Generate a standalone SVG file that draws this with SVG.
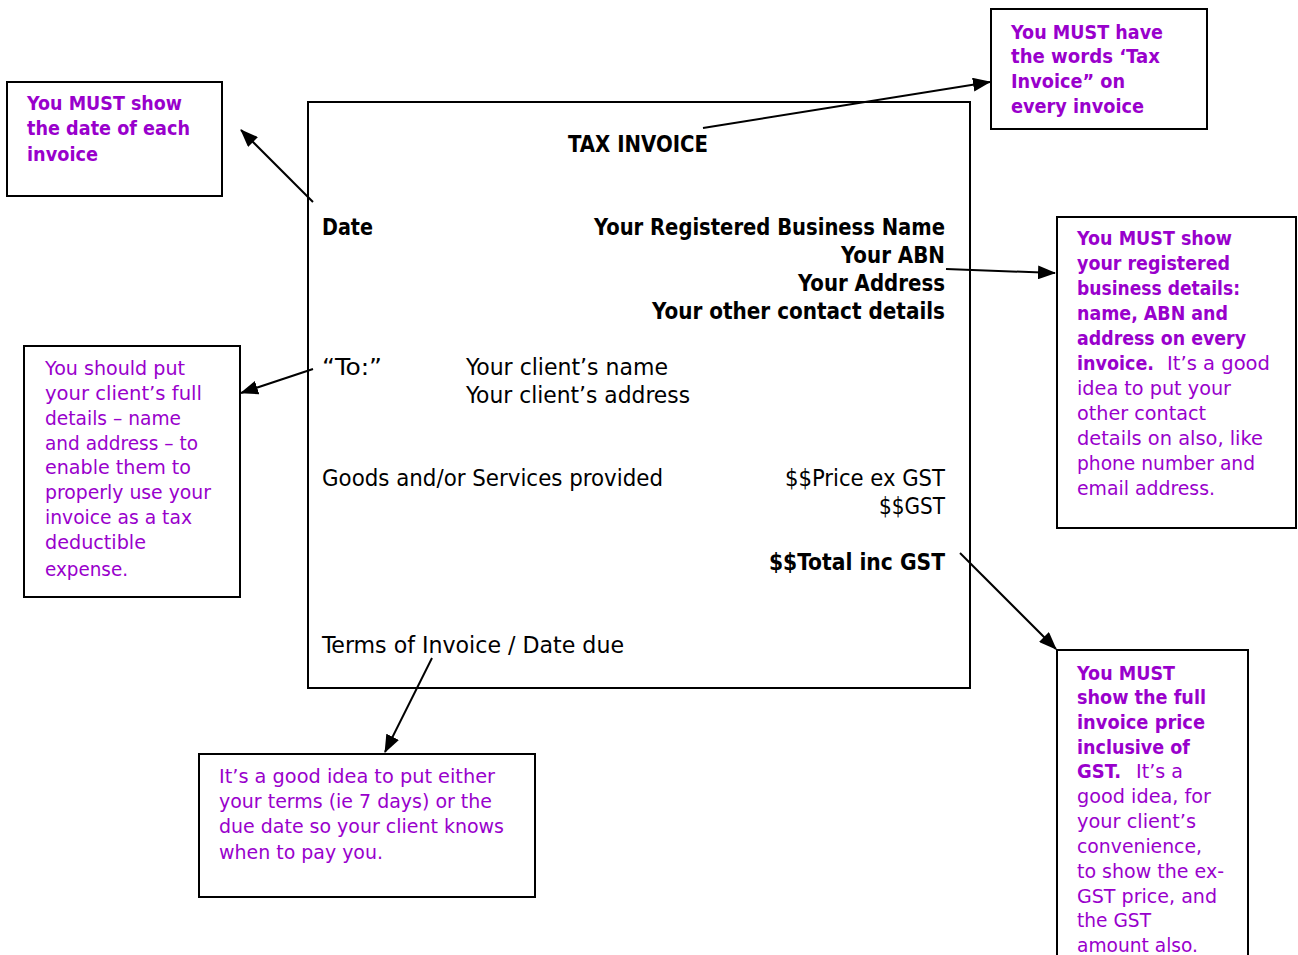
<svg xmlns="http://www.w3.org/2000/svg" width="1298" height="955" viewBox="0 0 1298 955">
<style>
.box{fill:#fff;stroke:#000;stroke-width:2}
.main{font-family:"DejaVu Sans","Liberation Sans",sans-serif;font-size:23px;fill:#000;font-stretch:condensed}
.b{font-weight:bold}
.note{font-family:"DejaVu Sans","Liberation Sans",sans-serif;font-size:20px;fill:#9900CC}
.conn{stroke:#000;stroke-width:2;fill:none;marker-end:url(#arr)}
</style>
<defs>
<marker id="arr" markerUnits="userSpaceOnUse" markerWidth="18" markerHeight="14" refX="17" refY="7" orient="auto">
<path d="M0,0 L18,7 L0,14 z" fill="#000"/>
</marker>
</defs>
<rect width="1298" height="955" fill="#fff"/>

<g id="invoice">
<rect class="box" x="308" y="102" width="662" height="586"/>
<text class="main b" x="568" y="152" textLength="140" lengthAdjust="spacingAndGlyphs">TAX INVOICE</text>
<text class="main b" x="322" y="235" textLength="51" lengthAdjust="spacingAndGlyphs">Date</text>
<text class="main b" x="594" y="235" textLength="351" lengthAdjust="spacingAndGlyphs">Your Registered Business Name</text>
<text class="main b" x="841" y="263" textLength="104" lengthAdjust="spacingAndGlyphs">Your ABN</text>
<text class="main b" x="798" y="291" textLength="147" lengthAdjust="spacingAndGlyphs">Your Address</text>
<text class="main b" x="652" y="319" textLength="293" lengthAdjust="spacingAndGlyphs">Your other contact details</text>
<text class="main" x="322" y="375" textLength="60" lengthAdjust="spacingAndGlyphs">“To:”</text>
<text class="main" x="466" y="375" textLength="202" lengthAdjust="spacingAndGlyphs">Your client’s name</text>
<text class="main" x="466" y="403" textLength="224" lengthAdjust="spacingAndGlyphs">Your client’s address</text>
<text class="main" x="322" y="486" textLength="341" lengthAdjust="spacingAndGlyphs">Goods and/or Services provided</text>
<text class="main" x="785" y="486" textLength="160" lengthAdjust="spacingAndGlyphs">$$Price ex GST</text>
<text class="main" x="879" y="514" textLength="66" lengthAdjust="spacingAndGlyphs">$$GST</text>
<text class="main b" x="769" y="570" textLength="176" lengthAdjust="spacingAndGlyphs">$$Total inc GST</text>
<text class="main" x="322" y="653" textLength="302" lengthAdjust="spacingAndGlyphs">Terms of Invoice / Date due</text>
</g>

<g id="note-date">
<rect class="box" x="7" y="82" width="215" height="114"/>
<text class="note b" x="27" y="110" textLength="155" lengthAdjust="spacingAndGlyphs">You MUST show</text>
<text class="note b" x="27" y="135" textLength="163" lengthAdjust="spacingAndGlyphs">the date of each</text>
<text class="note b" x="27" y="161" textLength="71" lengthAdjust="spacingAndGlyphs">invoice</text>
</g>

<g id="note-taxinvoice">
<rect class="box" x="991" y="9" width="216" height="120"/>
<text class="note b" x="1011" y="39" textLength="152" lengthAdjust="spacingAndGlyphs">You MUST have</text>
<text class="note b" x="1011" y="63" textLength="149" lengthAdjust="spacingAndGlyphs">the words ‘Tax</text>
<text class="note b" x="1011" y="88" textLength="114" lengthAdjust="spacingAndGlyphs">Invoice” on</text>
<text class="note b" x="1011" y="113" textLength="133" lengthAdjust="spacingAndGlyphs">every invoice</text>
</g>

<g id="note-business">
<rect class="box" x="1057" y="217" width="239" height="311"/>
<text class="note b" x="1077" y="245" textLength="155" lengthAdjust="spacingAndGlyphs">You MUST show</text>
<text class="note b" x="1077" y="270" textLength="153" lengthAdjust="spacingAndGlyphs">your registered</text>
<text class="note b" x="1077" y="295" textLength="163" lengthAdjust="spacingAndGlyphs">business details:</text>
<text class="note b" x="1077" y="320" textLength="151" lengthAdjust="spacingAndGlyphs">name, ABN and</text>
<text class="note b" x="1077" y="345" textLength="169" lengthAdjust="spacingAndGlyphs">address on every</text>
<text class="note b" x="1077" y="370" textLength="77" lengthAdjust="spacingAndGlyphs">invoice.</text>
<text class="note" x="1167" y="370" textLength="103" lengthAdjust="spacingAndGlyphs">It’s a good</text>
<text class="note" x="1077" y="395" textLength="154" lengthAdjust="spacingAndGlyphs">idea to put your</text>
<text class="note" x="1077" y="420" textLength="129" lengthAdjust="spacingAndGlyphs">other contact</text>
<text class="note" x="1077" y="445" textLength="186" lengthAdjust="spacingAndGlyphs">details on also, like</text>
<text class="note" x="1077" y="470" textLength="178" lengthAdjust="spacingAndGlyphs">phone number and</text>
<text class="note" x="1077" y="495" textLength="138" lengthAdjust="spacingAndGlyphs">email address.</text>
</g>

<g id="note-client">
<rect class="box" x="24" y="346" width="216" height="251"/>
<text class="note" x="45" y="375" textLength="140" lengthAdjust="spacingAndGlyphs">You should put</text>
<text class="note" x="45" y="400" textLength="157" lengthAdjust="spacingAndGlyphs">your client’s full</text>
<text class="note" x="45" y="425" textLength="136" lengthAdjust="spacingAndGlyphs">details – name</text>
<text class="note" x="45" y="450" textLength="153" lengthAdjust="spacingAndGlyphs">and address – to</text>
<text class="note" x="45" y="474" textLength="146" lengthAdjust="spacingAndGlyphs">enable them to</text>
<text class="note" x="45" y="499" textLength="166" lengthAdjust="spacingAndGlyphs">properly use your</text>
<text class="note" x="45" y="524" textLength="147" lengthAdjust="spacingAndGlyphs">invoice as a tax</text>
<text class="note" x="45" y="549" textLength="101" lengthAdjust="spacingAndGlyphs">deductible</text>
<text class="note" x="45" y="576" textLength="83" lengthAdjust="spacingAndGlyphs">expense.</text>
</g>

<g id="note-terms">
<rect class="box" x="199" y="754" width="336" height="143"/>
<text class="note" x="219" y="783" textLength="276" lengthAdjust="spacingAndGlyphs">It’s a good idea to put either</text>
<text class="note" x="219" y="808" textLength="273" lengthAdjust="spacingAndGlyphs">your terms (ie 7 days) or the</text>
<text class="note" x="219" y="833" textLength="285" lengthAdjust="spacingAndGlyphs">due date so your client knows</text>
<text class="note" x="219" y="859" textLength="164" lengthAdjust="spacingAndGlyphs">when to pay you.</text>
</g>

<g id="note-total">
<rect class="box" x="1057" y="650" width="191" height="330"/>
<text class="note b" x="1077" y="680" textLength="98" lengthAdjust="spacingAndGlyphs">You MUST</text>
<text class="note b" x="1077" y="704" textLength="129" lengthAdjust="spacingAndGlyphs">show the full</text>
<text class="note b" x="1077" y="729" textLength="128" lengthAdjust="spacingAndGlyphs">invoice price</text>
<text class="note b" x="1077" y="754" textLength="113" lengthAdjust="spacingAndGlyphs">inclusive of</text>
<text class="note b" x="1077" y="778" textLength="44" lengthAdjust="spacingAndGlyphs">GST.</text>
<text class="note" x="1136" y="778" textLength="47" lengthAdjust="spacingAndGlyphs">It’s a</text>
<text class="note" x="1077" y="803" textLength="134" lengthAdjust="spacingAndGlyphs">good idea, for</text>
<text class="note" x="1077" y="828" textLength="119" lengthAdjust="spacingAndGlyphs">your client’s</text>
<text class="note" x="1077" y="853" textLength="125" lengthAdjust="spacingAndGlyphs">convenience,</text>
<text class="note" x="1077" y="878" textLength="147" lengthAdjust="spacingAndGlyphs">to show the ex-</text>
<text class="note" x="1077" y="903" textLength="140" lengthAdjust="spacingAndGlyphs">GST price, and</text>
<text class="note" x="1077" y="927" textLength="74" lengthAdjust="spacingAndGlyphs">the GST</text>
<text class="note" x="1077" y="952" textLength="121" lengthAdjust="spacingAndGlyphs">amount also.</text>
</g>

<g id="connectors">
<line class="conn" x1="313" y1="202" x2="241" y2="130"/>
<line class="conn" x1="703" y1="128" x2="990" y2="82"/>
<line class="conn" x1="946" y1="269" x2="1055" y2="273"/>
<line class="conn" x1="313" y1="369" x2="241" y2="393"/>
<line class="conn" x1="432" y1="658" x2="385" y2="752"/>
<line class="conn" x1="960" y1="553" x2="1056" y2="649"/>
</g>
</svg>
